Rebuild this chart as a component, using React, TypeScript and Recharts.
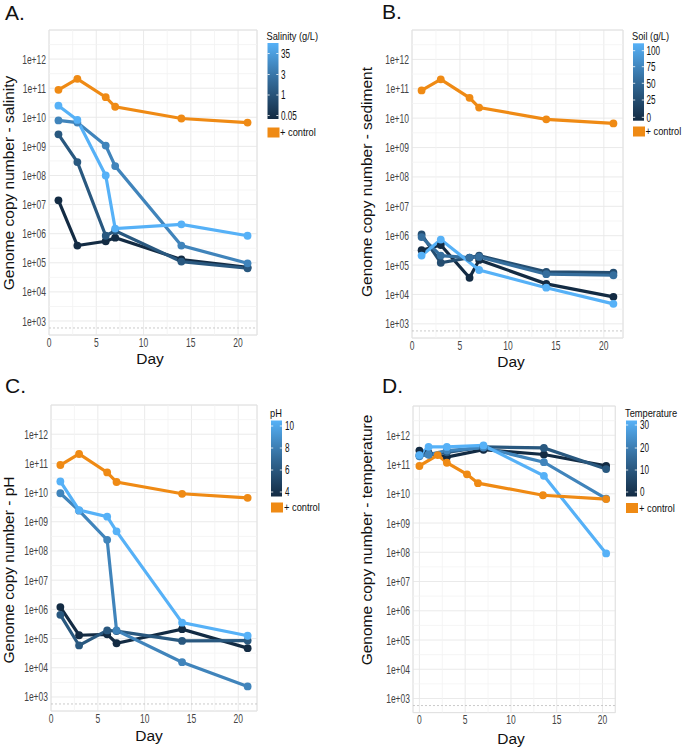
import React from "react";
import { LineChart, Line, XAxis, YAxis, CartesianGrid, ReferenceLine, ReferenceArea } from "recharts";

// sampling days
const DAYS = [1, 3, 6, 7, 14, 21];
const CONTROL = [8.8e10, 2.1e11, 4.9e10, 2.3e10, 9.1e9, 6.6e9];

// A. salinity (g/L)
const SAL_LABELS = ["35", "3", "1", "0.05"];
const SAL_35 = [2.5e10, 8.1e9, 1.0e8, 1.5e6, 2.1e6, 8.5e5];
const SAL_3 = [7.8e9, 6.6e9, 1.07e9, 2.1e8, 3.9e5, 9.6e4];
const SAL_1 = [2.6e9, 2.9e8, 8.5e5, 1.26e6, 1.1e5, 6.5e4];
const SAL_005 = [1.4e7, 3.9e5, 5.5e5, 7.3e5, 1.3e5, 7.0e4];

// B. soil (g/L)
const SOIL_LABELS = ["100", "75", "50", "25", "0"];
const SOIL_100_DAYS = [1, 3, 7, 14, 21];
const SOIL_100 = [2.1e5, 7.4e5, 6.8e4, 1.7e4, 4.8e3];
const SOIL_50 = [9.0e5, 2.1e5, 1.8e5, 1.9e5, 4.9e4, 4.5e4];
const SOIL_25 = [1.1e6, 1.2e5, 1.8e5, 2.1e5, 5.9e4, 5.5e4];
const SOIL_0 = [3.2e5, 4.8e5, 3.7e4, 1.5e5, 2.3e4, 8.3e3];

// C. pH
const PH_LABELS = ["10", "8", "6", "4"];
const PH_10 = [2.4e10, 2.5e9, 1.5e9, 4.7e8, 3.5e5, 1.25e5];
const PH_8 = [9.5e9, 2.4e9, 2.4e8, 1.9e5, 1.55e4, 2.3e3];
const PH_6 = [6.5e5, 5.8e4, 1.9e5, 1.8e5, 8.3e4, 8.5e4];
const PH_4 = [1.2e6, 1.3e5, 1.4e5, 6.9e4, 2.1e5, 4.7e4];

// D. temperature
const TEMP_LABELS = ["30", "20", "10", "0"];
const TEMP_DAYS = [0, 1, 3, 7, 13.6, 20.4];
const TEMP_30 = [2.1e11, 4.0e11, 4.0e11, 4.5e11, 4.1e10, 9.1e7];
const TEMP_20 = [1.9e11, 2.2e11, 3.0e11, 3.8e11, 1.2e11, 6.8e9];
const TEMP_10 = [2.1e11, 2.2e11, 2.6e11, 4.0e11, 3.7e11, 7.0e10];
const TEMP_0 = [3.0e11, 2.5e11, 1.8e11, 3.2e11, 2.2e11, 9.0e10];
const D_CONTROL_DAYS = [0, 2, 3, 5.2, 6.4, 13.5, 20.4];
const D_CONTROL = [8.9e10, 2.1e11, 1.15e11, 4.6e10, 2.3e10, 8.9e9, 6.6e9];

const X_TICKS = [0, 5, 10, 15, 20];
const MINOR_X = [2.5, 7.5, 12.5, 17.5];
const Y_TICKS = [1e3, 1e4, 1e5, 1e6, 1e7, 1e8, 1e9, 1e10, 1e11, 1e12];
const Y_MIN = 330;
const Y_MAX = 1e13;
const LOD = 575;

const ORANGE = "#EF8A14";
const FONT = "'Liberation Sans', Arial, sans-serif";
const NUM_SX = 0.68;
const TXT_SX = 0.8;

function blue(t: number) {
  const lo = [19, 43, 67];
  const hi = [86, 177, 247];
  const c = lo.map((v, i) => Math.round(v + (hi[i] - v) * t));
  return `rgb(${c[0]},${c[1]},${c[2]})`;
}

const pts = (days: number[], vals: number[]) => days.map((d, i) => ({ day: d, v: vals[i] }));

const panels = [
  {
    key: "A",
    plot: { left: 49, top: 30, right: 257, bottom: 335 },
    xDomain: [0, 22],
    letter: { x: 5, y: 19.5 },
    title: "Genome copy number - salinity",
    yTitle: { x: 14, y: 183 },
    day: { x: 150, y: 364 },
    legend: { title: "Salinity (g/L)", x: 267.5, titleY: 40, barTop: 43, barBottom: 119, labels: SAL_LABELS, labelY: [53.5, 74.5, 95, 115.5], ctrlY: 127.5, textX: 281 },
    series: [
      { data: pts(DAYS, SAL_005), t: 0 },
      { data: pts(DAYS, SAL_1), t: 1 / 3 },
      { data: pts(DAYS, SAL_3), t: 2 / 3 },
      { data: pts(DAYS, SAL_35), t: 1 },
    ],
    control: pts(DAYS, CONTROL),
  },
  {
    key: "B",
    plot: { left: 412, top: 30, right: 623, bottom: 338 },
    xDomain: [0, 22],
    letter: { x: 382, y: 18.5 },
    title: "Genome copy number - sediment",
    yTitle: { x: 371.5, y: 182 },
    day: { x: 511, y: 367 },
    legend: { title: "Soil (g/L)", x: 633, titleY: 39.5, barTop: 43.3, barBottom: 120.7, labels: SOIL_LABELS, labelY: [50.7, 66.7, 83.3, 100, 117.3], ctrlY: 126.5, textX: 646.5 },
    series: [
      { data: pts(DAYS, SOIL_0), t: 0 },
      { data: pts(DAYS, SOIL_25), t: 0.25 },
      { data: pts(DAYS, SOIL_50), t: 0.5 },
      { data: pts(SOIL_100_DAYS, SOIL_100), t: 1 },
    ],
    control: pts(DAYS, CONTROL),
  },
  {
    key: "C",
    plot: { left: 51, top: 405, right: 257, bottom: 711 },
    xDomain: [0, 22],
    letter: { x: 5, y: 392.5 },
    title: "Genome copy number - pH",
    yTitle: { x: 14, y: 570 },
    day: { x: 149, y: 741 },
    legend: { title: "pH", x: 271, titleY: 417, barTop: 420.5, barBottom: 496.5, labels: PH_LABELS, labelY: [426, 448, 470, 492], ctrlY: 502.5, textX: 285 },
    series: [
      { data: pts(DAYS, PH_4), t: 0 },
      { data: pts(DAYS, PH_6), t: 1 / 3 },
      { data: pts(DAYS, PH_8), t: 2 / 3 },
      { data: pts(DAYS, PH_10), t: 1 },
    ],
    control: pts(DAYS, CONTROL),
  },
  {
    key: "D",
    plot: { left: 413, top: 405.7, right: 615.3, bottom: 712.3 },
    xDomain: [-0.7, 21.4],
    letter: { x: 382, y: 392.5 },
    title: "Genome copy number - temperature",
    yTitle: { x: 371.5, y: 540 },
    day: { x: 511, y: 743.5 },
    legend: { title: "Temperature", x: 626, titleY: 416.5, barTop: 420.5, barBottom: 496.5, labels: TEMP_LABELS, labelY: [425, 448, 470, 492], ctrlY: 503, textX: 640 },
    series: [
      { data: pts(TEMP_DAYS, TEMP_0), t: 0 },
      { data: pts(TEMP_DAYS, TEMP_10), t: 1 / 3 },
      { data: pts(TEMP_DAYS, TEMP_20), t: 2 / 3 },
      { data: pts(TEMP_DAYS, TEMP_30), t: 1 },
    ],
    control: pts(D_CONTROL_DAYS, D_CONTROL),
  },
];

const YW = 50;
const MT = 5;
const MR = 5;
const XH = 24;

const fmtExp = (v: number) => "1e+" + String(Math.round(Math.log10(v))).padStart(2, "0");

const YTick = (props: any) => (
  <g transform={`translate(${props.x},${props.y})`}>
    <text transform={`scale(${NUM_SX},1)`} textAnchor="end" dy="0.36em" fontSize={12.5} fill="#444" fontFamily={FONT}>
      {fmtExp(props.payload.value)}
    </text>
  </g>
);

const XTick = (props: any) => (
  <g transform={`translate(${props.x},${props.y})`}>
    <text transform={`scale(${NUM_SX},1)`} textAnchor="middle" dy="0.71em" fontSize={12.5} fill="#444" fontFamily={FONT}>
      {props.payload.value}
    </text>
  </g>
);

function Panel({ p }: { p: any }) {
  const w = p.plot.right - p.plot.left;
  const h = p.plot.bottom - p.plot.top;
  return (
    <div style={{ position: "absolute", left: p.plot.left - YW, top: p.plot.top - MT }}>
      <LineChart width={YW + w + MR} height={MT + h + XH} margin={{ top: MT, right: MR, bottom: 0, left: 0 }}>
        {MINOR_X.map((x) => (
          <ReferenceLine key={"mx" + x} x={x} stroke="#F3F3F3" strokeWidth={0.8} />
        ))}
        {Y_TICKS.map((t) => (
          <ReferenceLine key={"my" + t} y={t * Math.sqrt(10)} stroke="#F3F3F3" strokeWidth={0.8} />
        ))}
        <CartesianGrid stroke="#E8E8E8" strokeWidth={0.9} />
        <ReferenceArea x1={p.xDomain[0]} x2={p.xDomain[1]} y1={Y_MIN} y2={Y_MAX} fill="none" stroke="#E2E2E2" />
        <ReferenceLine y={LOD} stroke="#BDBDBD" strokeDasharray="2 2" strokeWidth={0.8} />
        <XAxis
          dataKey="day"
          type="number"
          domain={p.xDomain}
          ticks={X_TICKS}
          interval={0}
          allowDataOverflow
          axisLine={false}
          tickLine={false}
          tickSize={0}
          tickMargin={3}
          height={XH}
          tick={XTick}
        />
        <YAxis
          type="number"
          scale="log"
          domain={[Y_MIN, Y_MAX]}
          ticks={Y_TICKS}
          interval={0}
          allowDataOverflow
          axisLine={false}
          tickLine={false}
          tickSize={0}
          tickMargin={3}
          width={YW}
          tick={YTick}
        />
        {p.series.map((s: any, i: number) => (
          <Line
            key={p.key + i}
            data={s.data}
            dataKey="v"
            type="linear"
            stroke={blue(s.t)}
            strokeWidth={3.2}
            dot={{ r: 3.9, fill: blue(s.t), stroke: "none" }}
            activeDot={false}
            isAnimationActive={false}
          />
        ))}
        <Line
          data={p.control}
          dataKey="v"
          type="linear"
          stroke={ORANGE}
          strokeWidth={3.2}
          dot={{ r: 3.9, fill: ORANGE, stroke: "none" }}
          activeDot={false}
          isAnimationActive={false}
        />
      </LineChart>
    </div>
  );
}

function Overlay() {
  return (
    <svg width={685} height={749} style={{ position: "absolute", left: 0, top: 0, pointerEvents: "none" }} fontFamily={FONT}>
      <defs>
        <linearGradient id="cbar" x1="0" y1="0" x2="0" y2="1">
          <stop offset="0%" stopColor="#56B1F7" />
          <stop offset="50%" stopColor="#336A98" />
          <stop offset="100%" stopColor="#132B43" />
        </linearGradient>
      </defs>
      {panels.map((p) => {
        const L = p.legend;
        return (
          <g key={p.key}>
            <text x={p.letter.x} y={p.letter.y} fontSize={21} fill="#111">
              {p.key}.
            </text>
            <text x={p.day.x} y={p.day.y} fontSize={15.5} textAnchor="middle" fill="#111">
              Day
            </text>
            <text transform={`translate(${p.yTitle.x},${p.yTitle.y}) rotate(-90)`} fontSize={15.5} textAnchor="middle" fill="#111">
              {p.title}
            </text>
            <text transform={`translate(${L.x - 1},${L.titleY}) scale(${TXT_SX},1)`} fontSize={11.6} fill="#111">
              {L.title}
            </text>
            <rect x={L.x} y={L.barTop} width={11} height={L.barBottom - L.barTop} fill="url(#cbar)" />
            {L.labels.map((lab: string, i: number) => (
              <g key={lab}>
                <line x1={L.x} x2={L.x + 2.2} y1={L.labelY[i]} y2={L.labelY[i]} stroke="#fff" strokeWidth={0.8} />
                <line x1={L.x + 8.8} x2={L.x + 11} y1={L.labelY[i]} y2={L.labelY[i]} stroke="#fff" strokeWidth={0.8} />
                <text transform={`translate(${L.textX},${L.labelY[i]}) scale(${NUM_SX},1)`} dy="0.36em" fontSize={12} fill="#111">
                  {lab}
                </text>
              </g>
            ))}
            <rect x={L.x} y={L.ctrlY} width={12} height={10} fill={ORANGE} />
            <text transform={`translate(${L.textX - 1},${L.ctrlY + 8.7}) scale(${TXT_SX},1)`} fontSize={11.6} fill="#111">
              + control
            </text>
          </g>
        );
      })}
    </svg>
  );
}

export default function App() {
  return (
    <div style={{ position: "absolute", left: 0, top: 0, width: 685, height: 749, background: "#fff" }}>
      {panels.map((p) => (
        <Panel key={p.key} p={p} />
      ))}
      <Overlay />
    </div>
  );
}
